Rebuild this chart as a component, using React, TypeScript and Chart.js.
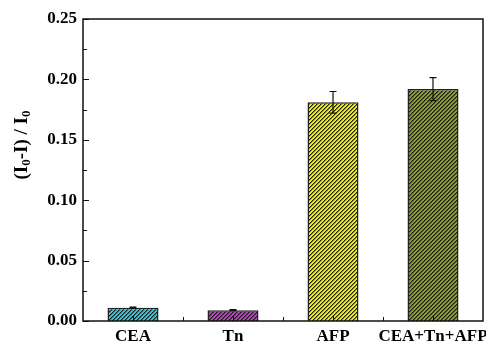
import React, { useEffect, useRef } from "react";
import { Chart, registerables } from "chart.js";

Chart.register(...registerables);

const categories = ["CEA", "Tn", "AFP", "CEA+Tn+AFP"];
const values = [0.011, 0.009, 0.181, 0.192];
const errors = [0.0005, 0.0004, 0.009, 0.0095];
const barColors = ["#38c4d4", "#b448b8", "#ecec1c", "#8c9c2c"];
const yTicks = [0, 0.05, 0.1, 0.15, 0.2, 0.25];

const FONT = "'Liberation Serif', 'Times New Roman', serif";

function makePattern(color: string): CanvasPattern | string {
  const n = 4;
  const c = document.createElement("canvas");
  c.width = n;
  c.height = n;
  const ctx = c.getContext("2d");
  if (!ctx) return color;
  ctx.fillStyle = color;
  ctx.fillRect(0, 0, n, n);
  for (let x = 0; x < n; x++) {
    for (let y = 0; y < n; y++) {
      const k = (x + y) % n;
      if (k === 0) {
        ctx.fillStyle = "rgba(20,20,20,0.95)";
        ctx.fillRect(x, y, 1, 1);
      } else if (k === 1) {
        ctx.fillStyle = "rgba(20,20,20,0.45)";
        ctx.fillRect(x, y, 1, 1);
      }
    }
  }
  const p = ctx.createPattern(c, "repeat");
  return p || color;
}

const decorPlugin = {
  id: "decor",
  afterDatasetsDraw(chart: any) {
    const ctx = chart.ctx;
    const area = chart.chartArea;
    const xs = chart.scales.x;
    const ys = chart.scales.y;
    ctx.save();
    // error bars
    ctx.strokeStyle = "#111";
    ctx.lineWidth = 1.2;
    const meta = chart.getDatasetMeta(0);
    values.forEach((v, i) => {
      const bar = meta.data[i];
      const x = bar.x;
      const yt = ys.getPixelForValue(v + errors[i]);
      const yb = ys.getPixelForValue(v - errors[i]);
      ctx.beginPath();
      ctx.moveTo(x, yt);
      ctx.lineTo(x, yb);
      ctx.moveTo(x - 3.5, yt);
      ctx.lineTo(x + 3.5, yt);
      ctx.moveTo(x - 3.5, yb);
      ctx.lineTo(x + 3.5, yb);
      ctx.stroke();
    });
    // ticks
    ctx.lineWidth = 1;
    ctx.strokeStyle = "#111";
    ctx.beginPath();
    for (let i = 0; i < yTicks.length; i++) {
      const y = Math.round(ys.getPixelForValue(yTicks[i])) + 0.5;
      ctx.moveTo(area.left, y);
      ctx.lineTo(area.left + 6, y);
      if (i < yTicks.length - 1) {
        const ym = Math.round(ys.getPixelForValue((yTicks[i] + yTicks[i + 1]) / 2)) + 0.5;
        ctx.moveTo(area.left, ym);
        ctx.lineTo(area.left + 4, ym);
      }
    }
    categories.forEach((_, i) => {
      const x = Math.round(xs.getPixelForValue(i)) + 0.5;
      ctx.moveTo(x, area.bottom);
      ctx.lineTo(x, area.bottom - 6);
      if (i > 0) {
        const xm = Math.round(xs.getPixelForValue(i - 0.5)) + 0.5;
        ctx.moveTo(xm, area.bottom);
        ctx.lineTo(xm, area.bottom - 4);
      }
    });
    ctx.stroke();
    // frame
    ctx.lineWidth = 1.5;
    ctx.strokeStyle = "#111";
    ctx.strokeRect(area.left, area.top, area.right - area.left, area.bottom - area.top);
    // y title with subscripts
    ctx.translate(22, 145);
    ctx.rotate(-Math.PI / 2);
    ctx.fillStyle = "#000";
    ctx.textBaseline = "middle";
    const big = "bold 19px " + FONT;
    const small = "bold 13px " + FONT;
    const parts: [string, boolean][] = [
      ["(I", false],
      ["0", true],
      ["-I) / I", false],
      ["0", true],
    ];
    let total = 0;
    parts.forEach(([t, sub]) => {
      ctx.font = sub ? small : big;
      total += ctx.measureText(t).width;
    });
    let x = -total / 2;
    parts.forEach(([t, sub]) => {
      ctx.font = sub ? small : big;
      ctx.fillText(t, x, sub ? 5 : 0);
      x += ctx.measureText(t).width;
    });
    ctx.restore();
  },
};

export default function App() {
  const ref = useRef<HTMLCanvasElement | null>(null);
  useEffect(() => {
    if (!ref.current) return;
    const patterns = barColors.map((c) => makePattern(c));
    const chart = new Chart(ref.current, {
      type: "bar",
      data: {
        labels: categories,
        datasets: [
          {
            data: values,
            backgroundColor: patterns as any,
            borderColor: "#222",
            borderWidth: 1.5,
            barPercentage: 0.51,
            categoryPercentage: 1,
          },
        ],
      },
      options: {
        animation: false,
        responsive: false,
        maintainAspectRatio: false,
        layout: { padding: { top: 19, right: 3, left: 0, bottom: 0 } },
        plugins: { legend: { display: false }, tooltip: { enabled: false } },
        scales: {
          x: {
            grid: { display: false, drawTicks: false },
            border: { display: false },
            ticks: {
              color: "#000",
              padding: 5,
              font: { family: FONT, size: 17, weight: "bold" },
              maxRotation: 0,
              autoSkip: false,
            },
            afterFit: (s: any) => {
              s.height = 21;
              s.paddingLeft = 0;
              s.paddingRight = 0;
            },
          },
          y: {
            min: 0,
            max: 0.25,
            grid: { display: false, drawTicks: false },
            border: { display: false },
            ticks: {
              stepSize: 0.05,
              color: "#000",
              padding: 6,
              font: { family: FONT, size: 17, weight: "bold" },
              callback: (v: any) => Number(v).toFixed(2),
            },
            afterFit: (s: any) => {
              s.width = 83;
              s.paddingTop = 0;
              s.paddingBottom = 0;
            },
          },
        },
      },
      plugins: [decorPlugin],
    });
    return () => chart.destroy();
  }, []);
  return (
    <div style={{ position: "fixed", left: 0, top: 0, width: 486, height: 342, background: "#fff" }}>
      <canvas ref={ref} width={486} height={342} style={{ width: 486, height: 342 }} />
    </div>
  );
}
